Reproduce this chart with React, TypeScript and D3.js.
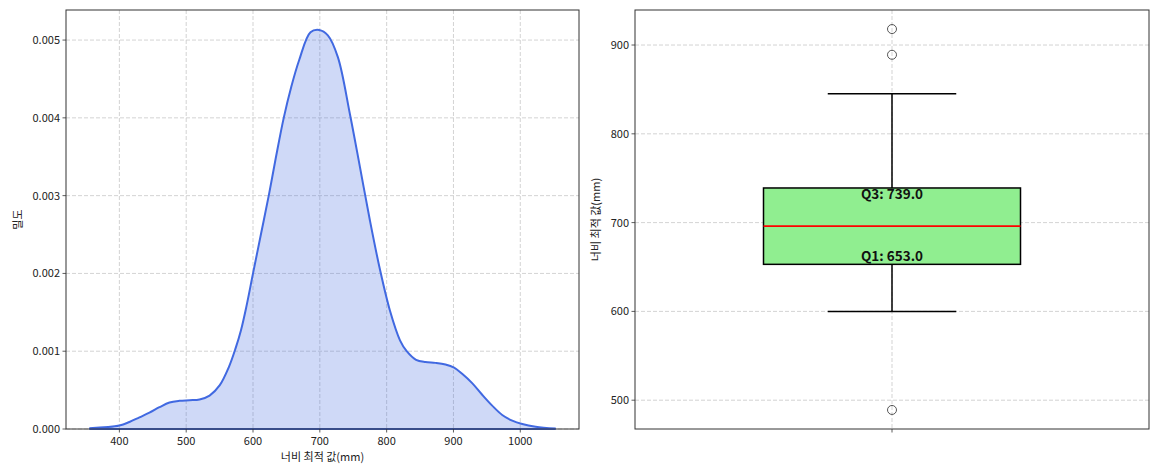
import React from "react";
import * as d3 from "d3";

// KDE curve (width optimum value, mm -> density)
const kdeX = [355, 400, 415, 430, 445, 460, 475, 490, 505, 520, 535, 550, 564, 574, 582, 590, 600, 612, 624, 634, 646, 657, 669, 686, 699, 712, 727, 745, 760, 775, 790, 805, 820, 830, 844, 858, 873, 888, 901, 913, 928, 943, 958, 973, 988, 1003, 1023, 1053];
const kdeY = [0.00001, 0.000045, 0.00009, 0.00015, 0.00021, 0.00028, 0.00034, 0.000362, 0.00037, 0.00038, 0.00043, 0.00056, 0.0008, 0.00104, 0.00127, 0.00157, 0.002, 0.00251, 0.00302, 0.00348, 0.004, 0.00439, 0.00474, 0.0051, 0.00513, 0.00506, 0.00478, 0.00405, 0.00337, 0.00268, 0.00205, 0.00152, 0.00114, 0.001, 0.00089, 0.00086, 0.00085, 0.00083, 0.00079, 0.00071, 0.00059, 0.00044, 0.0003, 0.00018, 0.000107, 0.000064, 0.00003, 0.000005];

const leftXTicks = [400, 500, 600, 700, 800, 900, 1000];
const leftYTicks = [0, 0.001, 0.002, 0.003, 0.004, 0.005];

// Box plot statistics
const q1 = 653.0;
const median = 696;
const q3 = 739.0;
const whiskerLow = 600;
const whiskerHigh = 845;
const outliers = [489, 889, 918];
const rightYTicks = [500, 600, 700, 800, 900];

const xLabel = "너비 최적 값(mm)";
const yLabelLeft = "밀도";
const yLabelRight = "너비 최적 값(mm)";

const FONT = "'Noto Sans CJK KR', 'Noto Sans', sans-serif";
const GRID = "#c8c8c8";
const BLUE = "#4169e1";

export default function App() {
  // Left panel
  const L = { x0: 66, x1: 579, y0: 10, y1: 429 };
  const xmin = d3.min(kdeX)!;
  const xmax = d3.max(kdeX)!;
  const pad = (xmax - xmin) * 0.05;
  const xL = d3.scaleLinear().domain([xmin - pad, xmax + pad]).range([L.x0, L.x1]);
  const yL = d3.scaleLinear().domain([0, d3.max(kdeY)! * 1.05]).range([L.y1, L.y0]);
  const pts = kdeX.map((x, i) => [x, kdeY[i]] as [number, number]);
  const curve = d3.curveCatmullRom.alpha(0.5);
  const line = d3.line<[number, number]>().x((d) => xL(d[0])).y((d) => yL(d[1])).curve(curve);
  const area = d3.area<[number, number]>().x((d) => xL(d[0])).y0(yL(0)).y1((d) => yL(d[1])).curve(curve);

  // Right panel
  const R = { x0: 635, x1: 1149, y0: 10, y1: 429 };
  const allVals = [...outliers, whiskerLow, whiskerHigh];
  const vmin = d3.min(allVals)!;
  const vmax = d3.max(allVals)!;
  const vpad = (vmax - vmin) * 0.05;
  const yR = d3.scaleLinear().domain([vmin - vpad, vmax + vpad]).range([R.y1, R.y0]);
  const xR = d3.scaleLinear().domain([0.5, 1.5]).range([R.x0, R.x1]);
  const cx = xR(1);

  const tickText = { fontFamily: FONT, fontSize: 11, fill: "#222" } as const;

  return (
    <svg width={1160} height={467} style={{ position: "absolute", left: 0, top: 0, background: "#fff" }}>
      <rect x={0} y={0} width={1160} height={467} fill="#fff" />
      {/* ---------- Left: KDE ---------- */}
      <g>
        {leftXTicks.map((t) => (
          <line key={"gx" + t} x1={xL(t)} x2={xL(t)} y1={L.y0} y2={L.y1} stroke={GRID} strokeWidth={0.8} strokeDasharray="4,2" />
        ))}
        {leftYTicks.map((t) => (
          <line key={"gy" + t} x1={L.x0} x2={L.x1} y1={yL(t)} y2={yL(t)} stroke={GRID} strokeWidth={0.8} strokeDasharray="4,2" />
        ))}
        <path d={area(pts)!} fill={BLUE} fillOpacity={0.25} />
        <line x1={xL(xmin)} x2={xL(xmax)} y1={yL(0)} y2={yL(0)} stroke={BLUE} strokeWidth={2} />
        <path d={line(pts)!} fill="none" stroke={BLUE} strokeWidth={2} />
        <rect x={L.x0} y={L.y0} width={L.x1 - L.x0} height={L.y1 - L.y0} fill="none" stroke="#333" strokeWidth={1} />
        {leftXTicks.map((t) => (
          <g key={"tx" + t}>
            <line x1={xL(t)} x2={xL(t)} y1={L.y1} y2={L.y1 + 3.5} stroke="#333" strokeWidth={0.8} />
            <text x={xL(t)} y={L.y1 + 16} textAnchor="middle" {...tickText}>{t}</text>
          </g>
        ))}
        {leftYTicks.map((t) => (
          <g key={"ty" + t}>
            <line x1={L.x0 - 3.5} x2={L.x0} y1={yL(t)} y2={yL(t)} stroke="#333" strokeWidth={0.8} />
            <text x={L.x0 - 6} y={yL(t) + 4} textAnchor="end" {...tickText}>{t.toFixed(3)}</text>
          </g>
        ))}
        <text x={(L.x0 + L.x1) / 2} y={461} textAnchor="middle" {...tickText}>{xLabel}</text>
        <text transform={`translate(22, ${(L.y0 + L.y1) / 2}) rotate(-90)`} textAnchor="middle" {...tickText}>{yLabelLeft}</text>
      </g>

      {/* ---------- Right: Box plot ---------- */}
      <g>
        {rightYTicks.map((t) => (
          <line key={"rgy" + t} x1={R.x0} x2={R.x1} y1={yR(t)} y2={yR(t)} stroke={GRID} strokeWidth={0.8} strokeDasharray="4,2" />
        ))}
        <line x1={cx} x2={cx} y1={R.y0} y2={R.y1} stroke={GRID} strokeWidth={0.8} strokeDasharray="4,2" />
        {/* whiskers */}
        <line x1={cx} x2={cx} y1={yR(q3)} y2={yR(whiskerHigh)} stroke="#000" strokeWidth={1.5} />
        <line x1={cx} x2={cx} y1={yR(q1)} y2={yR(whiskerLow)} stroke="#000" strokeWidth={1.5} />
        <line x1={xR(0.875)} x2={xR(1.125)} y1={yR(whiskerHigh)} y2={yR(whiskerHigh)} stroke="#000" strokeWidth={1.5} />
        <line x1={xR(0.875)} x2={xR(1.125)} y1={yR(whiskerLow)} y2={yR(whiskerLow)} stroke="#000" strokeWidth={1.5} />
        {/* box */}
        <rect x={xR(0.75)} y={yR(q3)} width={xR(1.25) - xR(0.75)} height={yR(q1) - yR(q3)} fill="#90ee90" stroke="#000" strokeWidth={1.5} />
        <line x1={xR(0.75)} x2={xR(1.25)} y1={yR(median)} y2={yR(median)} stroke="#ff0000" strokeWidth={1.8} />
        {outliers.map((o) => (
          <circle key={"o" + o} cx={cx} cy={yR(o)} r={4.5} fill="none" stroke="#555" strokeWidth={1} />
        ))}
        <text x={cx} y={yR(q3) + 11.5} textAnchor="middle" fontFamily={FONT} fontSize={13.5} fontWeight="bold" fill="#111">{`Q3: ${q3.toFixed(1)}`}</text>
        <text x={cx} y={yR(q1) - 3} textAnchor="middle" fontFamily={FONT} fontSize={13.5} fontWeight="bold" fill="#111">{`Q1: ${q1.toFixed(1)}`}</text>
        <rect x={R.x0} y={R.y0} width={R.x1 - R.x0} height={R.y1 - R.y0} fill="none" stroke="#333" strokeWidth={1} />
        <line x1={cx} x2={cx} y1={R.y1} y2={R.y1 + 3.5} stroke="#333" strokeWidth={0.8} />
        {rightYTicks.map((t) => (
          <g key={"rty" + t}>
            <line x1={R.x0 - 3.5} x2={R.x0} y1={yR(t)} y2={yR(t)} stroke="#333" strokeWidth={0.8} />
            <text x={R.x0 - 6} y={yR(t) + 4} textAnchor="end" {...tickText}>{t}</text>
          </g>
        ))}
        <text transform={`translate(600, ${(R.y0 + R.y1) / 2}) rotate(-90)`} textAnchor="middle" {...tickText}>{yLabelRight}</text>
      </g>
    </svg>
  );
}
